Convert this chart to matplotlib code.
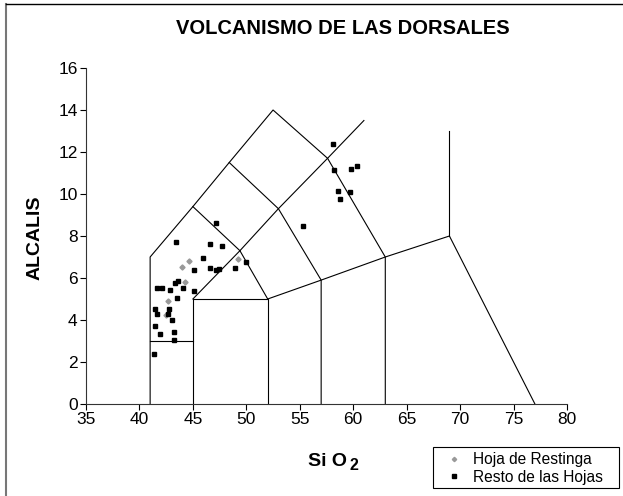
import matplotlib
matplotlib.use("Agg")
import matplotlib.pyplot as plt
from matplotlib.lines import Line2D
from matplotlib.patches import Rectangle

plt.rcParams['font.family'] = ['Liberation Sans', 'DejaVu Sans']

# TAS field boundaries (SiO2, alkalis)
tas_lines = [
    [(41, 0), (41, 7), (45, 9.4), (48.4, 11.5), (52.5, 14), (57.6, 11.7), (63, 7), (63, 0)],
    [(41, 3), (45, 3)],
    [(45, 0), (45, 5), (52, 5), (52, 0)],
    [(45, 9.4), (49.4, 7.3), (45, 5)],
    [(49.4, 7.3), (52, 5)],
    [(49.4, 7.3), (53, 9.3), (57.6, 11.7), (61, 13.5)],
    [(48.4, 11.5), (53, 9.3), (57, 5.9), (57, 0)],
    [(52, 5), (57, 5.9), (63, 7), (69, 8), (77, 0)],
    [(69, 8), (69, 13)],
]

# Hoja de Restinga
restinga_sio2 = [44.6, 44.0, 44.3, 49.2, 42.7, 42.45]
restinga_alk = [6.79, 6.54, 5.83, 6.89, 4.92, 4.24]

# Resto de las Hojas
resto_sio2 = [47.2, 43.4, 46.6, 47.75, 45.9, 45.1, 46.6, 47.16, 47.4, 48.9, 50.0,
              43.6, 43.35, 41.6, 42.1, 42.9, 44.07, 45.1, 43.5, 41.5, 41.6, 42.8,
              42.67, 43.0, 41.5, 43.2, 41.95, 43.2, 41.4,
              58.08, 58.2, 59.76, 60.4, 58.57, 59.67, 58.76, 55.33]
resto_alk = [8.6, 7.71, 7.62, 7.51, 6.97, 6.40, 6.49, 6.40, 6.44, 6.49, 6.78,
             5.86, 5.75, 5.51, 5.54, 5.41, 5.54, 5.38, 5.06, 4.54, 4.27, 4.54,
             4.30, 3.98, 3.70, 3.43, 3.35, 3.03, 2.37,
             12.38, 11.14, 11.19, 11.33, 10.13, 10.10, 9.78, 8.49]

W, H = 623, 496
fig = plt.figure(figsize=(W / 100, H / 100), dpi=100)
ax = fig.add_axes([86 / W, 1 - 404 / H, (567 - 86) / W, (404 - 68) / H])

for seg in tas_lines:
    xs = [p[0] for p in seg]
    ys = [p[1] for p in seg]
    ax.plot(xs, ys, color='black', lw=0.8, zorder=1)

ax.plot(restinga_sio2, restinga_alk, linestyle='none', marker='D', markersize=2.6,
        color='#999999', label='Hoja de Restinga', zorder=3)
ax.plot(resto_sio2, resto_alk, linestyle='none', marker='s', markersize=2.8,
        color='black', label='Resto de las Hojas', zorder=3)

ax.set_xlim(35, 80)
ax.set_ylim(0, 16)
ax.set_xticks(range(35, 81, 5))
ax.set_yticks(range(0, 17, 2))
ax.tick_params(labelsize=12.5, length=4, width=0.8, direction='out', pad=2)
ax.spines['top'].set_visible(False)
ax.spines['right'].set_visible(False)
for s in ['left', 'bottom']:
    ax.spines[s].set_linewidth(0.8)
    ax.spines[s].set_color('#333333')

# axis titles
fig.text(35.5 / W, 1 - 237.5 / H, 'ALCALIS', rotation=90, ha='center', va='center',
         fontsize=14, fontweight='bold')
fig.text(347 / W, 1 - 461 / H, 'Si O', ha='right', va='center',
         fontsize=14, fontweight='bold')
fig.text(349 / W, 1 - 466 / H, '2', ha='left', va='center',
         fontsize=11.5, fontweight='bold')
fig.text(343 / W, 1 - 28 / H, 'VOLCANISMO DE LAS DORSALES', ha='center', va='center',
         fontsize=14.5, fontweight='bold')

# legend: box drawn separately so its size matches the original
fig.add_artist(Rectangle((433 / W, 1 - 488 / H), (619 - 433) / W, (488 - 447) / H,
                         transform=fig.transFigure, fill=False, edgecolor='black', lw=0.8))
handles = [
    Line2D([], [], linestyle='none', marker='D', markersize=2.2, color='#999999'),
    Line2D([], [], linestyle='none', marker='s', markersize=2.6, color='black'),
]
fig.legend(handles, ['Hoja de Restinga', 'Resto de las Hojas'], loc='center left',
           bbox_to_anchor=(445 / W, 1 - 468.5 / H), borderaxespad=0, fontsize=11.2,
           frameon=False, handlelength=1.2, handletextpad=0.6, borderpad=0,
           labelspacing=0.15)

# outer frame (left and top edges visible)
fig.add_artist(Line2D([5.5 / W, 5.5 / W], [0, 1 - 3.5 / H], transform=fig.transFigure,
                      color='#777777', lw=1.5))
fig.add_artist(Line2D([5.5 / W, 1], [1 - 3.5 / H, 1 - 3.5 / H], transform=fig.transFigure,
                      color='black', lw=1))

fig.savefig('out.png', dpi=100)
